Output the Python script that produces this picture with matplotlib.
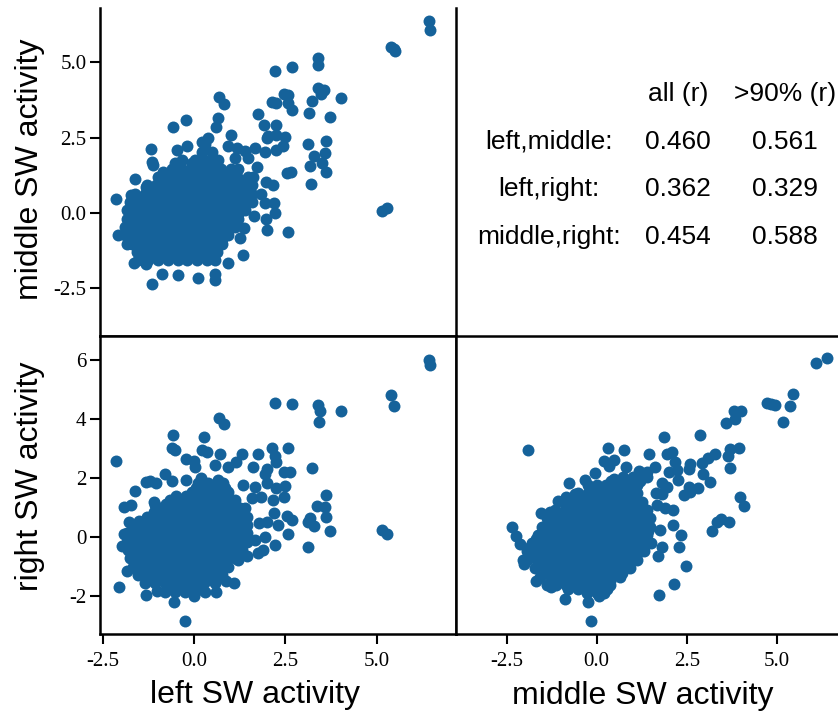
import numpy as np
from matplotlib import pyplot as plt

plt.rcParams['font.family'] = ['Liberation Sans', 'DejaVu Sans']

# left vs middle, isolated points
left_a = [6.44, 6.47, 5.40, 5.48, 5.51, 5.15, 5.29, 2.23, 2.68, 3.39, 3.40, 0.68, 0.81, -0.57, -0.22, 0.67, 0.60, 1.01,
          -1.17, -1.14, -1.13, -1.63, -2.14, 2.47, 2.58, 2.13, 2.25, 2.57, 2.68, 3.23, 3.16, 3.39, 3.48, 3.57, 4.02,
          3.73, 1.74, 1.93, 2.26, 1.99, 2.04, 2.49, 2.26, 3.11, 3.61, 3.60, 3.29, 3.50, 3.17, 3.62, 2.54, 2.65, 3.20,
          0.94, 1.17, 1.40, 1.67, 1.95, 2.26, 2.45, 1.12, 1.49, 1.72, 1.63, 1.97, 2.16, 1.83, 2.20, 1.95, 2.23, 1.65,
          1.96, 2.00, 2.58, 1.37, 1.26, 1.35, 0.93, -1.15, 0.57, 0.58, 0.10, -0.45, -0.89, -1.64, -1.32, -2.07, -1.84,
          -1.73, -1.32, -0.84, -0.47, -0.20, -0.52, -0.34, -0.06, 0.37, 0.21]
middle_a = [6.37, 6.07, 5.51, 5.44, 5.38, 0.06, 0.16, 4.72, 4.83, 4.91, 5.14, 3.83, 3.60, 2.86, 3.07, 3.15, 2.86, 2.60,
            2.13, 1.69, 1.58, 1.12, 0.47, 3.96, 3.92, 3.69, 3.63, 3.65, 3.43, 3.70, 3.33, 4.13, 3.96, 4.08, 3.80,
            3.19, 3.27, 2.92, 2.90, 2.50, 2.55, 2.52, 2.58, 2.27, 2.40, 2.00, 1.89, 1.66, 1.55, 1.36, 1.31, 1.37, 0.96,
            2.21, 2.14, 2.06, 2.14, 2.03, 2.10, 2.21, 1.81, 1.81, 1.53, 1.20, 1.03, 0.93, 0.64, 0.33, 0.31, -0.02, -0.11,
            -0.22, -0.56, -0.63, -0.52, -0.83, -1.41, -1.68, -2.35, -2.24, -2.02, -2.15, -2.07, -2.02, -1.68, -1.71,
            -0.74, -1.05, 0.59, 0.86, 1.36, 2.08, 2.21, 1.64, 1.75, 1.64, 2.47, 2.36]

# dense middle of the cloud, one list of left values per middle value
core_middle_a = [-1.57, -1.44, -1.30, -1.16, -1.02, -0.88, -0.74, -0.60, -0.47, -0.33, -0.19, -0.05, 0.09, 0.23, 0.37,
                 0.50, 0.64, 0.78, 0.92, 1.06, 1.20, 1.33, 1.47, 1.61, 1.75, 2.03, 2.30]
core_left_a = [
    [-1.53, -1.26, -0.99, -0.72, -0.45, -0.18, 0.09, 0.36, 0.58],
    [-1.40, -1.13, -0.86, -0.59, -0.32, -0.05, 0.22, 0.49],
    [-1.57, -1.40, -1.13, -0.86, -0.59, -0.32, -0.05, 0.22, 0.49, 0.62],
    [-1.45, -1.18, -0.91, -0.64, -0.37, -0.10, 0.17, 0.44, 0.60],
    [-1.71, -1.53, -1.26, -0.99, -0.72, -0.45, -0.18, 0.09, 0.36, 0.63, 0.76],
    [-1.60, -1.33, -1.06, -0.79, -0.52, -0.25, 0.02, 0.29, 0.56, 0.76],
    [-1.89, -1.66, -1.39, -1.12, -0.85, -0.58, -0.31, -0.04, 0.23, 0.50, 0.77, 0.94],
    [-1.78, -1.51, -1.24, -0.97, -0.70, -0.43, -0.16, 0.11, 0.38, 0.65, 0.92],
    [-1.89, -1.62, -1.35, -1.08, -0.81, -0.54, -0.27, 0.00, 0.27, 0.54, 0.81, 1.12],
    [-1.75, -1.48, -1.21, -0.94, -0.67, -0.40, -0.13, 0.14, 0.41, 0.68, 0.95, 1.10],
    [-1.84, -1.70, -1.43, -1.16, -0.89, -0.62, -0.35, -0.08, 0.19, 0.46, 0.73, 1.00, 1.21],
    [-1.71, -1.44, -1.17, -0.90, -0.63, -0.36, -0.09, 0.18, 0.45, 0.72, 0.99, 1.21],
    [-1.84, -1.57, -1.30, -1.03, -0.76, -0.49, -0.22, 0.05, 0.32, 0.59, 0.86, 1.13, 1.40],
    [-1.62, -1.35, -1.08, -0.81, -0.54, -0.27, 0.00, 0.27, 0.54, 0.81, 1.08, 1.35],
    [-1.75, -1.44, -1.17, -0.90, -0.63, -0.36, -0.09, 0.18, 0.45, 0.72, 0.99, 1.26, 1.58],
    [-1.58, -1.31, -1.04, -0.77, -0.50, -0.23, 0.04, 0.31, 0.58, 0.85, 1.12, 1.39],
    [-1.62, -1.35, -1.08, -0.81, -0.54, -0.27, 0.00, 0.27, 0.54, 0.81, 1.08, 1.35, 1.58],
    [-1.20, -0.93, -0.66, -0.39, -0.12, 0.15, 0.42, 0.69, 0.96, 1.23, 1.50],
    [-1.30, -1.03, -0.76, -0.49, -0.22, 0.05, 0.32, 0.59, 0.86, 1.13, 1.40, 1.58],
    [-0.85, -0.58, -0.31, -0.04, 0.23, 0.50, 0.77, 1.04, 1.31],
    [-0.98, -0.71, -0.44, -0.17, 0.10, 0.37, 0.64, 0.91, 1.18, 1.49],
    [-0.48, -0.21, 0.06, 0.33, 0.60, 0.87, 1.14],
    [-0.61, -0.34, -0.07, 0.20, 0.47, 0.74, 1.01, 1.21],
    [0.15, 0.39, 0.60],
    [0.03, 0.27, 0.50, 0.67],
    [0.21, 0.48],
    [0.30],
]

# left vs right
left_b = [6.44, 6.47, 5.40, 5.48, 5.15, 5.29, 2.23, 2.68, 3.39, 3.46, 3.43, 4.02, 0.68, 0.81, -0.57, 0.27, -0.61, -0.52,
          0.21, 0.35, 0.72, 1.32, 1.74, 2.14, 2.57, 2.22, 2.25, -2.14, -0.22, 0.00, 0.03, 0.58, 0.94, 1.15, 1.61, 1.99,
          1.95, 2.47, 2.64, 3.23, -0.79, -0.61, -0.21, -1.32, -1.21, -1.03, -1.63, -1.09, -1.07, -1.91, -1.73, 0.18,
          0.67, 1.35, 1.67, 1.99, 2.24, 2.50, 2.47, 2.16, 1.84, 1.58, 3.61, 3.38, 3.59, 3.62, 3.18, 3.13, 3.30, 3.73,
          3.11, 2.19, 2.54, 2.69, 2.58, 2.31, 1.99, 1.78, 1.95, 2.22, 1.90, 1.74, 1.44, 1.21, 1.67, 1.10, 0.89, 0.60,
          0.00, -0.55, -0.25, -1.32, -2.05, -1.00, -1.84, -1.96, -1.91, -1.77]
right_b = [6.00, 5.83, 4.80, 4.42, 0.25, 0.11, 4.53, 4.50, 4.48, 4.26, 3.89, 4.27, 4.02, 3.84, 3.45, 3.38, 3.03, 2.94,
           2.94, 2.87, 2.83, 2.82, 2.83, 3.00, 3.03, 2.75, 2.56, 2.59, 2.64, 2.59, 2.36, 2.43, 2.36, 2.53, 2.36, 2.30,
           2.14, 2.20, 2.20, 2.34, 2.14, 1.91, 1.94, 1.86, 1.90, 1.84, 1.58, 1.20, 1.09, 1.01, 1.08, 1.99,
           1.94, 1.77, 1.71, 1.82, 1.67, 1.73, 1.37, 1.26, 1.35, 1.32, 1.43, 1.06, 1.04, 0.68, 0.64, 0.51, 0.38, 0.20,
           -0.32, 0.81, 0.72, 0.59, 0.11, 0.42, 0.53, 0.47, 0.02, -0.26, -0.43, -0.52, -0.62, -0.77, -0.09, -1.55, -1.48, -1.85,
           -2.00, -2.17, -2.83, -1.94, -1.67, -1.81, -1.13, -0.28, 0.11, 0.50]

core_right_b = [-1.84, -1.70, -1.55, -1.41, -1.27, -1.13, -0.99, -0.85, -0.71, -0.57, -0.43, -0.29, -0.15, -0.01, 0.14,
                0.28, 0.42, 0.56, 0.70, 0.84, 0.98, 1.12, 1.26, 1.40, 1.54, 1.68, 1.82]
core_left_b = [
    [-0.79, -0.52, -0.25, 0.02, 0.30],
    [-0.65, -0.38, -0.11, 0.16],
    [-1.34, -1.07, -0.80, -0.53, -0.26, 0.01, 0.28, 0.58],
    [-1.20, -0.93, -0.66, -0.39, -0.12, 0.15, 0.42],
    [-1.53, -1.30, -1.03, -0.76, -0.49, -0.22, 0.05, 0.32, 0.59, 0.76],
    [-1.42, -1.15, -0.88, -0.61, -0.34, -0.07, 0.20, 0.47, 0.74],
    [-1.66, -1.44, -1.17, -0.90, -0.63, -0.36, -0.09, 0.18, 0.45, 0.72, 0.94],
    [-1.55, -1.28, -1.01, -0.74, -0.47, -0.20, 0.07, 0.34, 0.61, 0.88],
    [-1.75, -1.55, -1.28, -1.01, -0.74, -0.47, -0.20, 0.07, 0.34, 0.61, 0.88, 1.12],
    [-1.65, -1.38, -1.11, -0.84, -0.57, -0.30, -0.03, 0.24, 0.51, 0.78, 1.05],
    [-1.80, -1.60, -1.33, -1.06, -0.79, -0.52, -0.25, 0.02, 0.29, 0.56, 0.83, 1.10, 1.31],
    [-1.75, -1.48, -1.21, -0.94, -0.67, -0.40, -0.13, 0.14, 0.41, 0.68, 0.95, 1.22],
    [-1.84, -1.70, -1.43, -1.16, -0.89, -0.62, -0.35, -0.08, 0.19, 0.46, 0.73, 1.00, 1.27, 1.44],
    [-1.80, -1.53, -1.26, -0.99, -0.72, -0.45, -0.18, 0.09, 0.36, 0.63, 0.90, 1.17, 1.40],
    [-1.84, -1.57, -1.30, -1.03, -0.76, -0.49, -0.22, 0.05, 0.32, 0.59, 0.86, 1.13, 1.44],
    [-1.70, -1.43, -1.16, -0.89, -0.62, -0.35, -0.08, 0.19, 0.46, 0.73, 1.00, 1.27],
    [-1.66, -1.43, -1.16, -0.89, -0.62, -0.35, -0.08, 0.19, 0.46, 0.73, 1.00, 1.27, 1.44],
    [-1.50, -1.23, -0.96, -0.69, -0.42, -0.15, 0.12, 0.39, 0.66, 0.93, 1.20, 1.40],
    [-1.30, -1.03, -0.76, -0.49, -0.22, 0.05, 0.32, 0.59, 0.86, 1.13, 1.44],
    [-1.10, -0.83, -0.56, -0.29, -0.02, 0.25, 0.52, 0.79, 1.06, 1.33],
    [-0.89, -0.62, -0.35, -0.08, 0.19, 0.46, 0.73, 1.00, 1.27, 1.40],
    [-0.76, -0.49, -0.22, 0.05, 0.32, 0.59, 0.86, 1.13],
    [-0.66, -0.40, -0.13, 0.14, 0.41, 0.68, 0.95, 1.12],
    [-0.50, -0.23, 0.04, 0.31, 0.58, 0.85],
    [-0.06, 0.21, 0.48, 0.75, 0.94],
    [0.05, 0.32, 0.59, 0.86],
    [0.12, 0.39, 0.66, 0.80],
]

# middle vs right
middle_c = [6.09, 6.40, 4.73, 4.84, 4.95, 5.18, 5.37, 5.45, -1.92, 0.31, 0.76, 0.19, 0.35, 0.48, 0.81, 1.44, 1.88, 1.94,
            2.08, 2.87, 3.60, 3.84, 3.82, 4.00, 3.94, 3.70, 3.64, 3.70, 3.29, 3.10, 2.92, 2.59, 2.55, 2.18, 2.22, 2.01,
            2.94, 3.15, 2.82, 2.59, 2.41, 2.55, 2.27, 1.81, 1.96, 1.64, 1.81, 1.62, 1.18, 1.39, -0.32, -0.05, -0.76,
            -0.23, 0.49, -1.08, -0.85, -0.60, -1.55, -1.30, -2.34, -2.24, -2.13, -2.04, -2.01, -1.69, -1.27, -0.87,
            -0.23, 0.05, -0.16, 1.74, 2.14, 2.49, 1.69, 1.81, 1.51, 2.28, 2.34, 2.13, 1.67, 1.90, 2.11, 1.76, 3.19,
            3.33, 3.44, 3.66, 3.98, 4.10]
right_c = [5.89, 6.06, 4.54, 4.50, 4.47, 3.90, 4.44, 4.84, 2.94, 3.03, 2.94, 2.58, 2.41, 2.60, 2.38, 2.82, 3.38, 2.80,
           2.87, 3.45, 3.85, 4.01, 4.28, 4.27, 3.03, 2.97, 2.73, 2.34, 2.83, 2.67, 2.52, 2.49, 2.30, 2.53, 2.27, 2.20,
           2.13, 1.86, 1.68, 1.54, 1.43, 1.71, 1.94, 1.82, 1.69, 1.49, 1.45, 2.36, 2.25, 2.22, 1.94, 2.16, 1.85,
           1.77, 1.96, 1.24, 1.37, 1.45, 0.81, 0.87, 0.35, 0.05, -0.23, -0.77, -0.90, -1.46, -1.67, -2.07,
           -2.17, -2.00, -2.83, -1.94, -1.57, -0.97, -0.63, -0.34, -0.20, -0.32, 0.08, 0.92, 1.09, 0.98, 0.42, 0.25, 0.20,
           0.51, 0.62, 0.51, 1.37, 1.05]

core_right_c = [-1.89, -1.75, -1.61, -1.47, -1.33, -1.19, -1.05, -0.91, -0.77, -0.63, -0.48, -0.34, -0.20, -0.06, 0.08,
                0.22, 0.36, 0.50, 0.64, 0.78, 0.92, 1.06, 1.20, 1.35, 1.49, 1.63, 1.77, 1.91, 2.05]
core_middle_c = [
    [-0.28, 0.00, 0.19],
    [-0.80, -0.53, -0.26, 0.01, 0.28],
    [-1.39, -1.12, -0.85, -0.58, -0.31, -0.04, 0.23, 0.37],
    [-1.25, -0.98, -0.71, -0.44, -0.17, 0.10, 0.37],
    [-1.57, -1.26, -0.99, -0.72, -0.45, -0.18, 0.09, 0.36, 0.65],
    [-1.45, -1.18, -0.91, -0.64, -0.37, -0.10, 0.17, 0.44, 0.71],
    [-1.71, -1.40, -1.13, -0.86, -0.59, -0.32, -0.05, 0.22, 0.49, 0.76, 0.93],
    [-1.60, -1.33, -1.06, -0.79, -0.52, -0.25, 0.02, 0.29, 0.56, 0.83],
    [-1.94, -1.67, -1.40, -1.13, -0.86, -0.59, -0.32, -0.05, 0.22, 0.49, 0.76, 1.11],
    [-1.80, -1.53, -1.26, -0.99, -0.72, -0.45, -0.18, 0.09, 0.36, 0.63, 0.90, 1.10],
    [-1.94, -1.74, -1.47, -1.20, -0.93, -0.66, -0.39, -0.12, 0.15, 0.42, 0.69, 0.96, 1.30],
    [-1.85, -1.60, -1.33, -1.06, -0.79, -0.52, -0.25, 0.02, 0.29, 0.56, 0.83, 1.10, 1.30],
    [-1.81, -1.54, -1.27, -1.00, -0.73, -0.46, -0.19, 0.08, 0.35, 0.62, 0.89, 1.16, 1.39],
    [-1.68, -1.41, -1.14, -0.87, -0.60, -0.33, -0.06, 0.21, 0.48, 0.75, 1.02, 1.29],
    [-1.62, -1.35, -1.08, -0.81, -0.54, -0.27, 0.00, 0.27, 0.54, 0.81, 1.08, 1.39],
    [-1.48, -1.21, -0.94, -0.67, -0.40, -0.13, 0.14, 0.41, 0.68, 0.95, 1.22, 1.42],
    [-1.53, -1.26, -0.99, -0.72, -0.45, -0.18, 0.09, 0.36, 0.63, 0.90, 1.17, 1.48],
    [-1.36, -1.09, -0.82, -0.55, -0.28, -0.01, 0.26, 0.53, 0.80, 1.07, 1.34],
    [-1.39, -1.12, -0.85, -0.58, -0.31, -0.04, 0.23, 0.50, 0.77, 1.04, 1.31, 1.48],
    [-1.15, -0.88, -0.61, -0.34, -0.07, 0.20, 0.47, 0.74, 1.01, 1.28],
    [-1.16, -0.89, -0.62, -0.35, -0.08, 0.19, 0.46, 0.73, 1.00, 1.39],
    [-0.85, -0.58, -0.31, -0.04, 0.23, 0.50, 0.77, 1.04, 1.25],
    [-0.83, -0.56, -0.29, -0.02, 0.25, 0.52, 0.79, 1.06, 1.25],
    [-0.55, -0.28, -0.01, 0.26, 0.53, 0.80, 1.07],
    [-0.51, -0.24, 0.03, 0.30, 0.57, 0.84, 1.11],
    [-0.10, 0.17, 0.44, 0.71, 0.98],
    [0.00, 0.27, 0.54, 0.81, 1.11],
    [0.40, 0.67, 0.94, 1.20],
    [0.74, 1.01, 1.39],
]

ticks_top = [-2.5, 0.0, 2.5, 5.0]
tick_labels_top = ['-2.5', '0.0', '2.5', '5.0']
ticks_right = [-2, 0, 2, 4, 6]
tick_labels_right = ['-2', '0', '2', '4', '6']

table_head = ['all (r)', '>90% (r)']
table_rows = ['left,middle:', 'left,right:', 'middle,right:']
table_all = ['0.460', '0.362', '0.454']
table_90 = ['0.561', '0.329', '0.588']

W, H = 838, 717
COLOR = '#15629a'


def caja(l, t, r, b):
    return [l / W, 1 - b / H, (r - l) / W, (b - t) / H]


def fig_texto(fig, x, y, s, size, **kw):
    fig.text(x / W, 1 - y / H, s, fontsize=size, ha='center', va='center', color='black', **kw)


def juntar(xs, ys, core_xs, core_ys):
    x = list(xs)
    y = list(ys)
    for fila, val in zip(core_xs, core_ys):
        x += fila
        y += [val] * len(fila)
    return np.array(x), np.array(y)


def panel(ax, x, y, xlim, ylim):
    ax.scatter(x, y, s=74, color=COLOR, linewidths=0, zorder=3)
    ax.set_xlim(*xlim)
    ax.set_ylim(*ylim)
    for sp in ax.spines.values():
        sp.set_linewidth(1.8)
    ax.tick_params(axis='x', width=1.5, length=7, labelsize=15, pad=6)
    ax.tick_params(axis='y', width=1.5, length=7, labelsize=15, pad=3)
    for lab in ax.get_xticklabels() + ax.get_yticklabels():
        lab.set_family(['Liberation Serif', 'DejaVu Serif'])


fig = plt.figure(figsize=(W / 100, H / 100), dpi=100)

ax_a = fig.add_axes(caja(100.3, 8, 456, 336))
ax_b = fig.add_axes(caja(100.3, 336, 456, 633.7))
ax_c = fig.add_axes(caja(456, 336, 838, 633.7))

ax_a.set_xticks([])
ax_a.set_yticks(ticks_top, tick_labels_top)
ax_b.set_xticks(ticks_top, tick_labels_top)
ax_b.set_yticks(ticks_right, tick_labels_right)
ax_c.set_xticks(ticks_top, tick_labels_top)
ax_c.set_yticks([])

xa, ya = juntar(left_a, middle_a, core_left_a, core_middle_a)
xb, yb = juntar(left_b, right_b, core_left_b, core_right_b)
xc, yc = juntar(middle_c, right_c, core_middle_c, core_right_c)

panel(ax_a, xa, ya, (-2.567, 7.178), (-4.09, 6.80))
panel(ax_b, xb, yb, (-2.567, 7.178), (-3.257, 6.80))
panel(ax_c, xc, yc, (-3.908, 6.70), (-3.257, 6.80))

ax_a.spines['top'].set_visible(False)
ax_c.spines['right'].set_visible(False)

fig_texto(fig, 30, 169, 'middle SW activity', 23, rotation=90)
fig_texto(fig, 30, 476, 'right SW activity', 23, rotation=90)
fig_texto(fig, 255, 695, 'left SW activity', 23)
fig_texto(fig, 643, 696, 'middle SW activity', 23)

fig_texto(fig, 678, 94, table_head[0], 19)
fig_texto(fig, 785, 94, table_head[1], 19)
for i, fila_y in enumerate([142, 189, 237]):
    fig_texto(fig, 549, fila_y, table_rows[i], 19)
    fig_texto(fig, 678, fila_y, table_all[i], 19)
    fig_texto(fig, 785, fila_y, table_90[i], 19)

fig.savefig('out.png', dpi=100)
